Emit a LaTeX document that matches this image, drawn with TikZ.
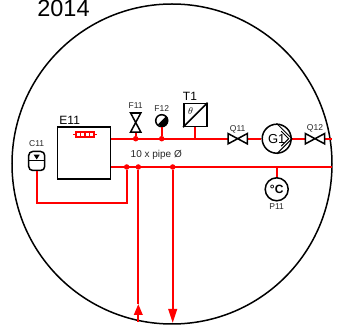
\documentclass[tikz,border=0pt]{standalone}
\usepackage{fontspec}
\setmainfont{Liberation Sans}
\usetikzlibrary{arrows.meta,calc}
\tikzstyle{symbol} = [rectangle, draw, line width=1.5pt, fill=white, inner sep=0pt]
\tikzstyle{roundsym} = [circle, draw, line width=1.5pt, fill=white, inner sep=0pt]
\tikzstyle{valve} = [rectangle, inner sep=0pt, minimum width=19pt, minimum height=10pt]
\tikzstyle{pipe} = [draw=red, line width=2pt]
\tikzstyle{joint} = [circle, fill=red, inner sep=0pt, minimum size=5.5pt]
\tikzstyle{tag} = [inner sep=0pt, font=\fontsize{8.5}{8.5}\selectfont, text=black!85]

\begin{document}
\begin{tikzpicture}
  \useasboundingbox (0pt, 0pt) rectangle (338pt, -336pt);
  \draw (172.0pt, -164.0pt)node[circle, draw, line width=1.5pt, inner sep=0pt, minimum size=320pt](rim){};
  \draw (63.5pt, -8.9pt)node[inner sep=0pt, font=\fontsize{23.5}{23.5}\selectfont](year){2014};
  % equipment
  \draw (84.2pt, -153.0pt)node[symbol, minimum width=53pt, minimum height=52pt](E11){};
  \draw (69.7pt, -120.0pt)node[inner sep=0pt, font=\fontsize{12}{12}\selectfont](E11t){E11};
  \draw (85.0pt, -134.5pt)node[draw=red, line width=1.3pt, inner sep=0pt, minimum width=18pt, minimum height=5pt](heat){};
  \draw (36.7pt, -161.0pt)node[symbol, rounded corners=4pt, minimum width=16pt, minimum height=19pt](C11){};
  \draw (36.7pt, -144.0pt)node[tag](C11t){C11};
  \draw (135.7pt, -122.5pt)node[valve, minimum width=10pt, minimum height=19pt](F11){};
  \draw (135.7pt, -105.5pt)node[tag](F11t){F11};
  \draw (161.7pt, -120.7pt)node[roundsym, minimum size=12pt](F12){};
  \draw (161.7pt, -109.0pt)node[tag](F12t){F12};
  \draw (195.3pt, -115.0pt)node[symbol, minimum size=23pt](T1){};
  \draw (190.0pt, -96.5pt)node[inner sep=0pt, font=\fontsize{12}{12}\selectfont](T1t){T1};
  \draw (190.5pt, -111.0pt)node[inner sep=0pt, font=\normalsize](theta){$\theta$};
  \draw (237.7pt, -138.7pt)node[valve](Q11){};
  \draw (237.7pt, -129.0pt)node[tag](Q11t){Q11};
  \draw (276.7pt, -138.7pt)node[roundsym, minimum size=29pt, font=\fontsize{13}{13}\selectfont](G1){G1};
  \draw (315.0pt, -138.7pt)node[valve](Q12){};
  \draw (315.0pt, -128.0pt)node[tag](Q12t){Q12};
  \draw (276.7pt, -189.3pt)node[roundsym, minimum size=23pt, font=\bfseries\fontsize{12}{12}\selectfont](P11){°C};
  \draw (276.7pt, -207.0pt)node[tag](P11t){P11};
  \draw (156.3pt, -155.0pt)node[inner sep=0pt, font=\fontsize{10}{10}\selectfont, text=black!85](size){10 x pipe Ø};
  % pipe ends and joints
  \draw (110.7pt, -138.7pt)coordinate(supply);
  \draw (110.7pt, -167.0pt)coordinate(return);
  \draw (331.5pt, -138.7pt)coordinate(supplyend);
  \draw (332.0pt, -167.0pt)coordinate(returnend);
  \draw (36.7pt, -203.3pt)coordinate(cornerA);
  \draw (126.7pt, -203.3pt)coordinate(cornerB);
  \draw (138.3pt, -322.0pt)coordinate(flowup);
  \draw (138.3pt, -304.0pt)coordinate(uptip);
  \draw (172.7pt, -323.0pt)coordinate(flowdown);
  \draw (135.7pt, -138.7pt)node[joint](j1){};
  \draw (161.7pt, -138.7pt)node[joint](j2){};
  \draw (195.3pt, -138.7pt)coordinate(j3);
  \draw (126.7pt, -167.0pt)node[joint](j4){};
  \draw (138.3pt, -167.0pt)node[joint](j5){};
  \draw (172.7pt, -167.0pt)node[joint](j6){};
  \draw (276.7pt, -167.0pt)coordinate(j7);
  % pipes
  \path[pipe] (supply) -- (Q11.west);
  \path[pipe] (Q11.east) -- (G1.west);
  \path[pipe] (G1.east) -- (Q12.west);
  \path[pipe] (Q12.east) -- (supplyend);
  \path[pipe] (return) -- (returnend);
  \path[pipe] (j1) -- (F11.south);
  \path[pipe] (j2) -- (F12.south);
  \path[pipe] (j3) -- (T1.south);
  \path[pipe] (j7) -- (P11.north);
  \path[pipe] (C11.south) -- (cornerA) -- (cornerB) -- (j4);
  \path[pipe] (j5) -- (uptip);
  \path[pipe, -{Triangle[length=11pt, width=8.5pt]}] (flowup) -- (uptip);
  \path[pipe, -{Triangle[length=14pt, width=8.5pt]}] (j6) -- (flowdown);
  % symbol details
  \foreach \v in {Q11,Q12} {
    \draw[line width=1.5pt, fill=white] (\v.south west) -- (\v.north east) -- (\v.south east) -- (\v.north west) -- cycle;
  }
  \draw[line width=1.5pt, fill=white] (F11.north west) -- (F11.north east) -- (F11.south west) -- (F11.south east) -- cycle;
  \draw[line width=2.5pt] (F11.north west) -- (F11.north east);
  \draw[line width=1.5pt] (T1.south west) -- (T1.north east);
  \draw[line width=1pt] (C11.west) -- (C11.east);
  \fill[black] ($(C11.center)+(-3pt,6.3pt)$) -- ++(6pt,0pt) -- ++(-3pt,-4.8pt) -- cycle;
  \draw[line width=1pt] (G1.north) -- (G1.east) -- (G1.south);
  \draw[line width=1pt] ($(G1.center)+(4.5pt,7.5pt)$) -- ($(G1.center)+(12pt,0pt)$) -- ($(G1.center)+(4.5pt,-7.5pt)$);
  \fill[black] (F12.north east) arc[start angle=45, end angle=-135, radius=6pt] -- cycle;
  \draw[red, line width=1.3pt] (heat.west) -- ++(-2.4pt,0pt);
  \draw[red, line width=1.3pt] (heat.east) -- ++(2.4pt,0pt);
  \foreach \k in {-4.5,0,4.5} {
    \draw[red, line width=1.3pt] ($(heat.north)+(\k pt,0pt)$) -- ($(heat.south)+(\k pt,0pt)$);
  }
\end{tikzpicture}
\end{document}
